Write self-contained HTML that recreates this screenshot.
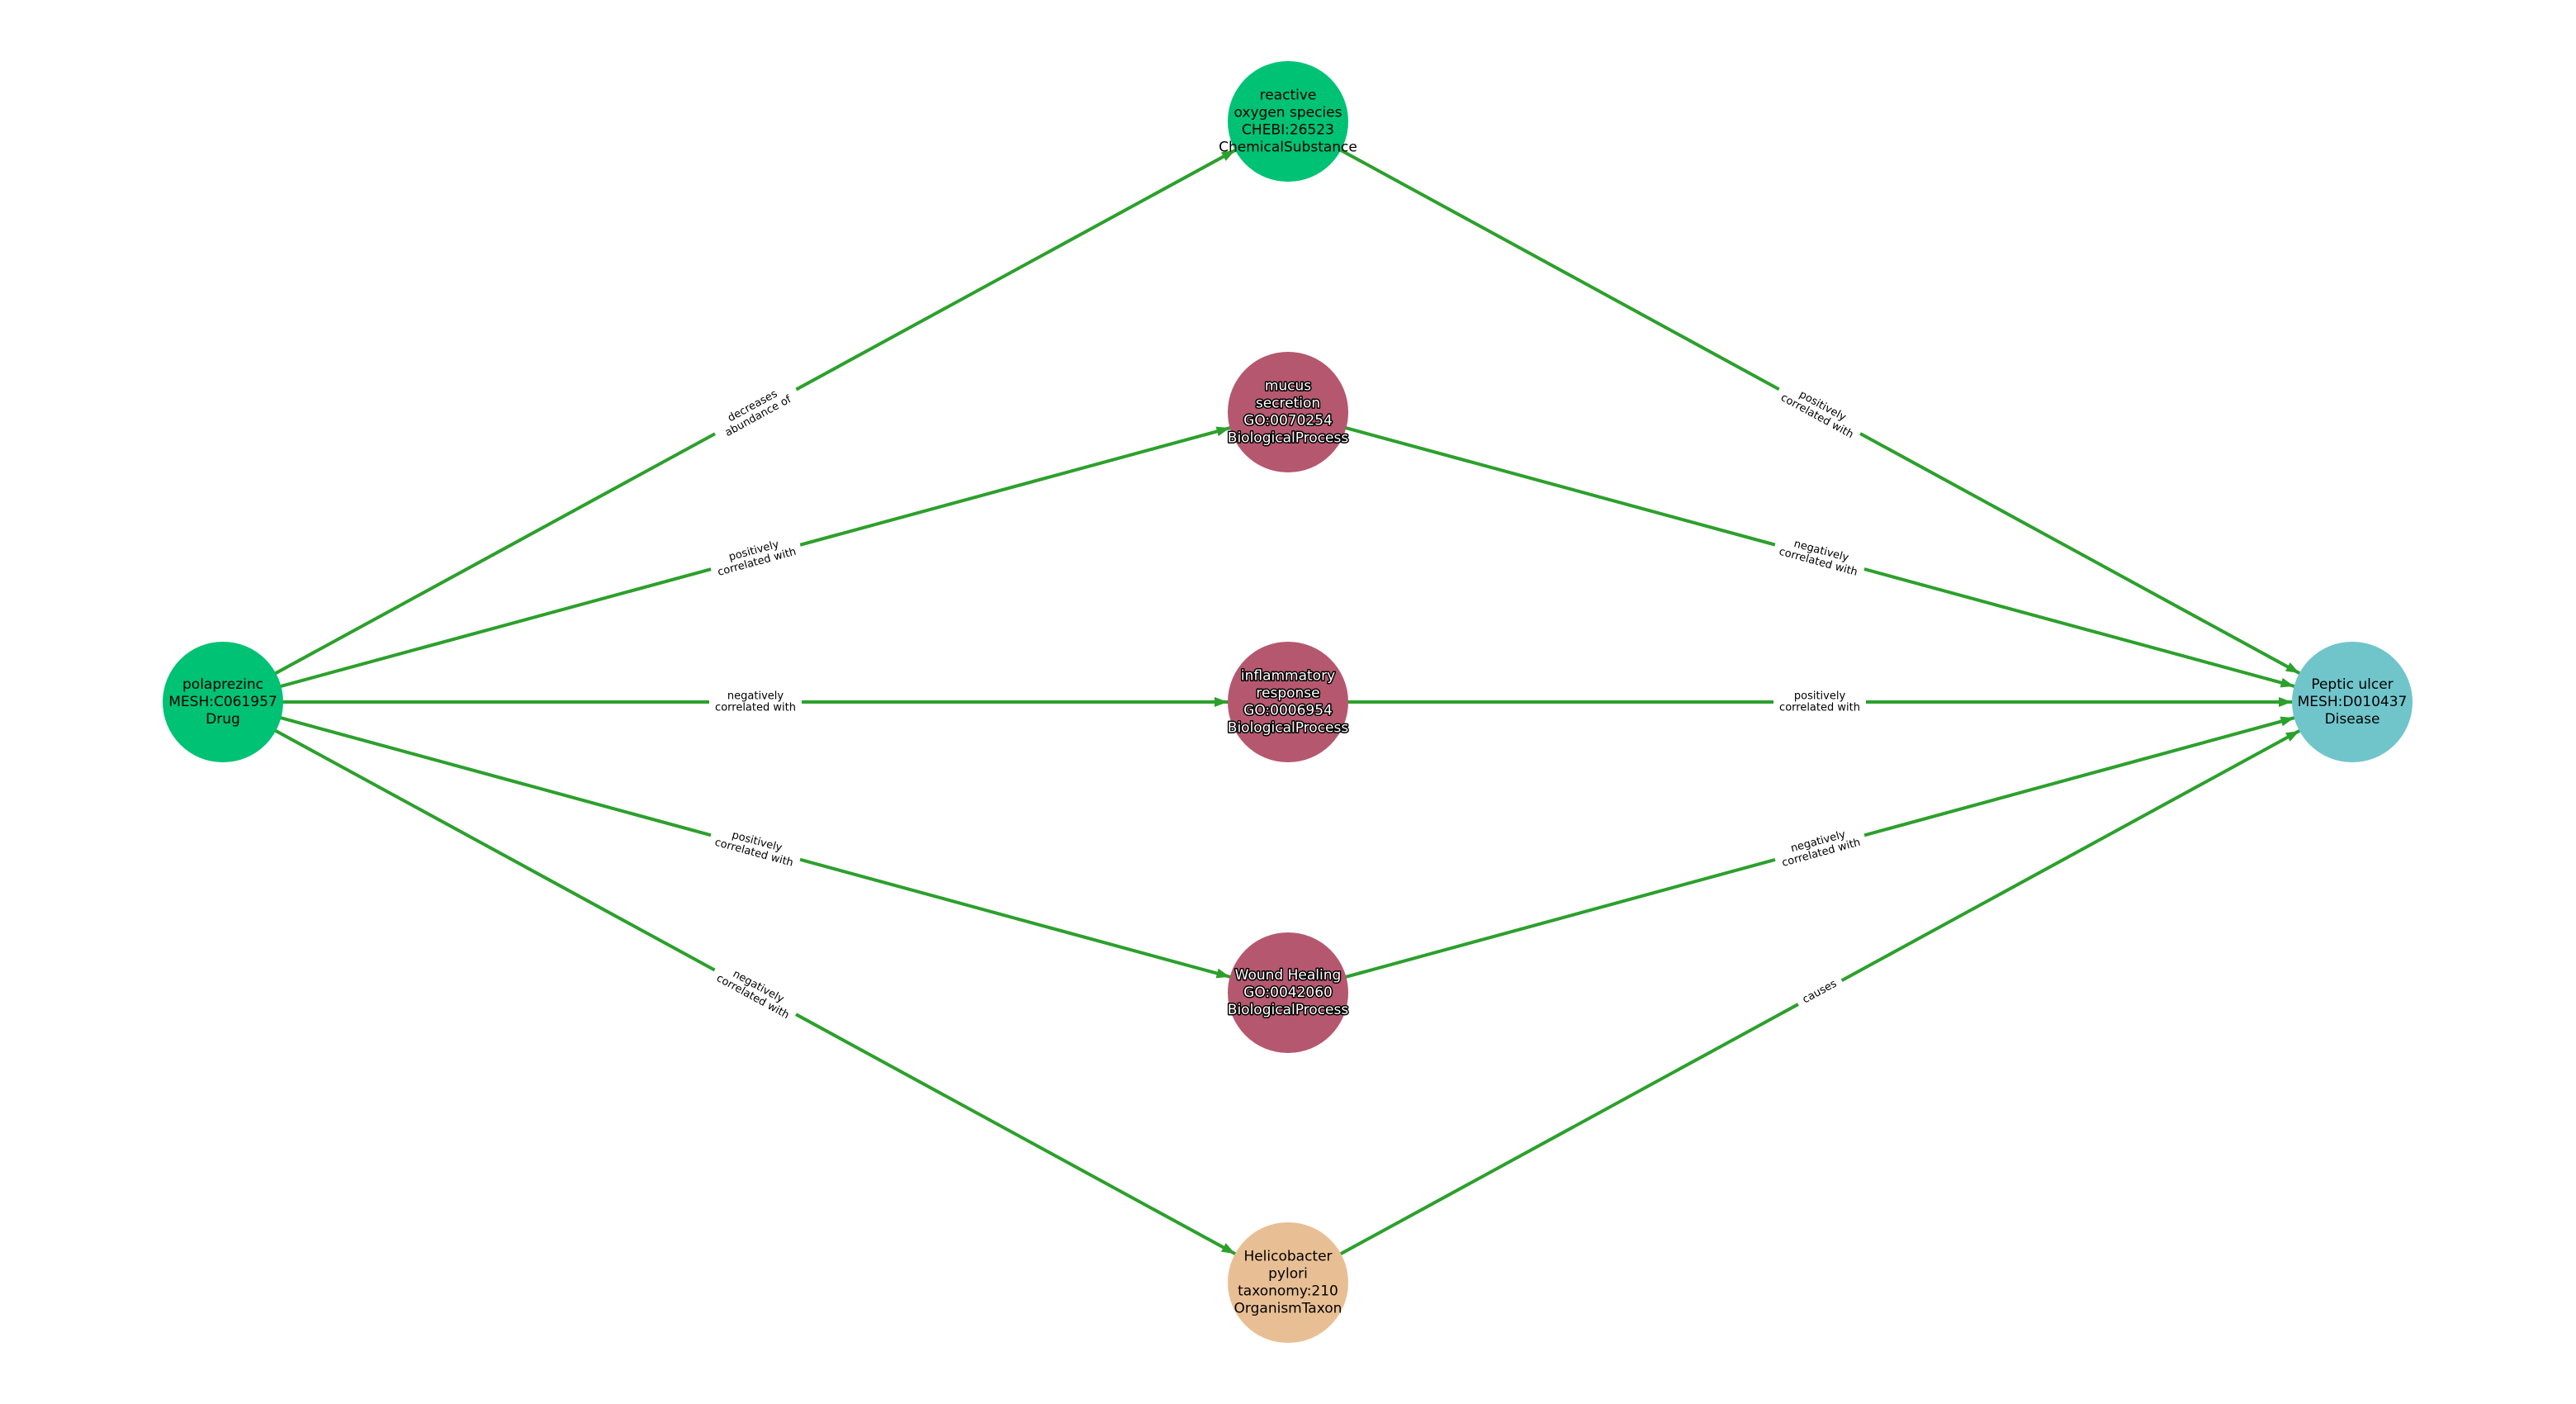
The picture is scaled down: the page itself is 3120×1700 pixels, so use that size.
<!DOCTYPE html>
<html><head><meta charset="utf-8"><style>
html,body{margin:0;padding:0;background:#fff;}
svg{display:block;}
.n{font-family:"DejaVu Sans","Liberation Sans",sans-serif;font-size:17px;text-anchor:middle;dominant-baseline:central;fill:#000;}
.w{fill:#fff;stroke:#000;stroke-width:3px;paint-order:stroke;stroke-linejoin:round;}
.l{font-family:"DejaVu Sans","Liberation Sans",sans-serif;font-size:13px;text-anchor:middle;dominant-baseline:central;fill:#000;}
</style></head><body>
<svg width="3120" height="1700" viewBox="0 0 3120 1700" xmlns="http://www.w3.org/2000/svg">
<defs>
<marker id="a" markerUnits="userSpaceOnUse" markerWidth="400" markerHeight="400" refX="175" refY="0" orient="auto" overflow="visible" viewBox="-200 -200 400 400">
<path d="M86,-6 L102,0 L86,6 z" fill="#2ca02c"/>
</marker>
</defs>
<g stroke="#2ca02c" stroke-width="4" fill="none" marker-end="url(#a)">
<line x1="270" y1="850" x2="1560" y2="147"/>
<line x1="270" y1="850" x2="1560" y2="499"/>
<line x1="270" y1="850" x2="1560" y2="850"/>
<line x1="270" y1="850" x2="1560" y2="1202"/>
<line x1="270" y1="850" x2="1560" y2="1553"/>
<line x1="1560" y1="147" x2="2849" y2="850"/>
<line x1="1560" y1="499" x2="2849" y2="850"/>
<line x1="1560" y1="850" x2="2849" y2="850"/>
<line x1="1560" y1="1202" x2="2849" y2="850"/>
<line x1="1560" y1="1553" x2="2849" y2="850"/>
</g>
<!-- edge labels -->
<g>
<g transform="translate(915,498) rotate(-28.6)"><rect x="-56" y="-17" width="112" height="34" fill="#fff"/><text class="l" y="-7">decreases</text><text class="l" y="7">abundance of</text></g>
<g transform="translate(915,674) rotate(-15.2)"><rect x="-56" y="-17" width="112" height="34" fill="#fff"/><text class="l" y="-7">positively</text><text class="l" y="7">correlated with</text></g>
<g transform="translate(915,850)"><rect x="-56" y="-17" width="112" height="34" fill="#fff"/><text class="l" y="-7">negatively</text><text class="l" y="7">correlated with</text></g>
<g transform="translate(915,1026) rotate(15.2)"><rect x="-56" y="-17" width="112" height="34" fill="#fff"/><text class="l" y="-7">positively</text><text class="l" y="7">correlated with</text></g>
<g transform="translate(915,1201) rotate(28.6)"><rect x="-56" y="-17" width="112" height="34" fill="#fff"/><text class="l" y="-7">negatively</text><text class="l" y="7">correlated with</text></g>
<g transform="translate(2204,498) rotate(28.6)"><rect x="-56" y="-17" width="112" height="34" fill="#fff"/><text class="l" y="-7">positively</text><text class="l" y="7">correlated with</text></g>
<g transform="translate(2204,674) rotate(15.2)"><rect x="-56" y="-17" width="112" height="34" fill="#fff"/><text class="l" y="-7">negatively</text><text class="l" y="7">correlated with</text></g>
<g transform="translate(2204,850)"><rect x="-56" y="-17" width="112" height="34" fill="#fff"/><text class="l" y="-7">positively</text><text class="l" y="7">correlated with</text></g>
<g transform="translate(2204,1026) rotate(-15.2)"><rect x="-56" y="-17" width="112" height="34" fill="#fff"/><text class="l" y="-7">negatively</text><text class="l" y="7">correlated with</text></g>
<g transform="translate(2204,1201) rotate(-28.6)"><rect x="-30" y="-10" width="60" height="20" fill="#fff"/><text class="l">causes</text></g>
</g>
<!-- nodes -->
<circle cx="270" cy="850" r="73" fill="#00c274"/>
<text class="n" x="270" y="829">polaprezinc</text><text class="n" x="270" y="850">MESH:C061957</text><text class="n" x="270" y="871">Drug</text>

<circle cx="1560" cy="147" r="73" fill="#00c274"/>
<text class="n" x="1560" y="115.5">reactive</text><text class="n" x="1560" y="136.5">oxygen species</text><text class="n" x="1560" y="157.5">CHEBI:26523</text><text class="n" x="1560" y="178.5">ChemicalSubstance</text>

<circle cx="1560" cy="499" r="73" fill="#b5586f"/>
<text class="n w" x="1560" y="467.5">mucus</text><text class="n w" x="1560" y="488.5">secretion</text><text class="n w" x="1560" y="509.5">GO:0070254</text><text class="n w" x="1560" y="530.5">BiologicalProcess</text>

<circle cx="1560" cy="850" r="73" fill="#b5586f"/>
<text class="n w" x="1560" y="818.5">inflammatory</text><text class="n w" x="1560" y="839.5">response</text><text class="n w" x="1560" y="860.5">GO:0006954</text><text class="n w" x="1560" y="881.5">BiologicalProcess</text>

<circle cx="1560" cy="1202" r="73" fill="#b5586f"/>
<text class="n w" x="1560" y="1181">Wound Healing</text><text class="n w" x="1560" y="1202">GO:0042060</text><text class="n w" x="1560" y="1223">BiologicalProcess</text>

<circle cx="1560" cy="1553" r="73" fill="#e8bf94"/>
<text class="n" x="1560" y="1521.5">Helicobacter</text><text class="n" x="1560" y="1542.5">pylori</text><text class="n" x="1560" y="1563.5">taxonomy:210</text><text class="n" x="1560" y="1584.5">OrganismTaxon</text>

<circle cx="2849" cy="850" r="73" fill="#70c5cb"/>
<text class="n" x="2849" y="829">Peptic ulcer</text><text class="n" x="2849" y="850">MESH:D010437</text><text class="n" x="2849" y="871">Disease</text>
</svg>
</body></html>
